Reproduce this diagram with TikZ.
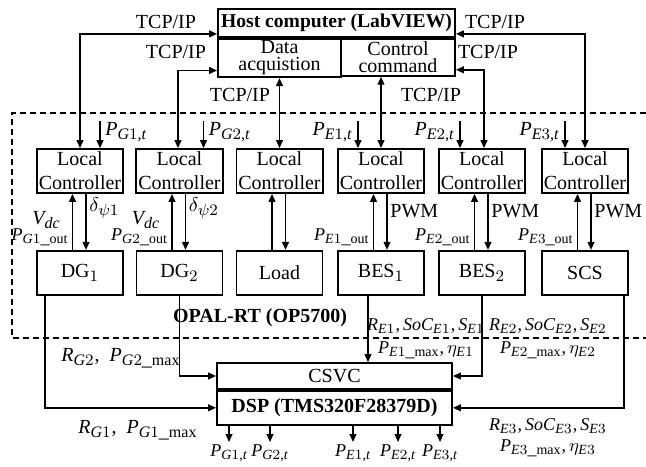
\documentclass[tikz,border=0pt]{standalone}
\usepackage{fontspec}
\setmainfont{Liberation Serif}
\usepackage[italic]{mathastext}
\usetikzlibrary{arrows.meta,positioning}
\tikzset{
  box/.style={rectangle,draw,line width=0.9pt,
              minimum width=43pt,minimum height=22pt,inner sep=1pt,
              align=center,font=\fontsize{10}{12}\selectfont},
  lcbox/.style={box},
  devbox/.style={box},
  arr/.style={-{Triangle[length=4pt,width=3.4pt]},line width=0.8pt},
  biarr/.style={{Triangle[length=4pt,width=3.4pt]}-{Triangle[length=4pt,width=3.4pt]},line width=0.8pt},
  lbl/.style={inner sep=1pt,align=center,font=\fontsize{10}{11.5}\selectfont},
  slbl/.style={lbl,font=\fontsize{9}{11.5}\selectfont},
  frame/.style={dashed,dash pattern=on 3pt off 2pt,line width=0.8pt}
}

\begin{document}
\begin{tikzpicture}[x=0.5pt,y=-0.5pt,node distance=28pt]
  \useasboundingbox (0,0) rectangle (646,466);

  % Host computer
  \node[box,minimum width=118.5pt,minimum height=14pt,font=\fontsize{9.8}{12}\selectfont\bfseries] (host) at (336.5,23) {Host computer (LabVIEW)};
  \node[box,minimum width=61.5pt,minimum height=18.5pt,anchor=north west,font=\fontsize{10}{8.5}\selectfont] (daq) at (host.south west) {Data\\acquistion};
  \node[box,minimum width=57pt,minimum height=18.5pt,anchor=north east,font=\fontsize{10}{8.5}\selectfont] (cmd) at (host.south east) {Control\\command};

  % OPAL-RT frame
  \draw[frame] (646,113) -| (12,338) -- (646,338);
  \node[lbl,font=\fontsize{10}{12}\selectfont\bfseries] (opal) at (260,318) {OPAL-RT (OP5700)};

  % Local controllers
  \node[lcbox] (lc1) at (80,171) {Local\\Controller};
  \node[lcbox] (lc2) at (179.5,171) {Local\\Controller};
  \node[lcbox] (lc3) at (279.5,171) {Local\\Controller};
  \node[lcbox] (lc4) at (381,171) {Local\\Controller};
  \node[lcbox] (lc5) at (482,171) {Local\\Controller};
  \node[lcbox] (lc6) at (585,171) {Local\\Controller};

  % Units
  \node[devbox,below=of lc1] (dg1) {DG$_1$};
  \node[devbox,below=of lc2] (dg2) {DG$_2$};
  \node[devbox,below=of lc3] (load) {Load};
  \node[devbox,below=of lc4] (bes1) {BES$_1$};
  \node[devbox,below=of lc5] (bes2) {BES$_2$};
  \node[devbox,below=of lc6] (scs) {SCS};

  % DSP
  \node[box,minimum width=117.5pt,minimum height=13pt] (csvc) at (334.5,376) {CSVC};
  \node[box,minimum width=117.5pt,minimum height=17pt,below=0pt of csvc,font=\fontsize{10}{12}\selectfont\bfseries] (dsp) {DSP (TMS320F28379D)};

  % TCP/IP links
  \draw[biarr] ([yshift=2pt]host.south west) -| (lc1.north);
  \draw[biarr] ([yshift=-6.25pt]daq.west) -| ([xshift=-0.75pt]lc2.north);
  \draw[biarr] (daq.south) -- (daq.south |- lc3.north);
  \draw[biarr] (cmd.south -| lc4.north) -- (lc4.north);
  \draw[biarr] ([yshift=-6.25pt]cmd.east) -| ([xshift=1pt]lc5.north);
  \draw[biarr] ([yshift=2pt]host.south east) -| (lc6.north);
  \node[lbl] at (166,22) {TCP/IP};
  \node[lbl] at (176,52) {TCP/IP};
  \node[lbl] at (240,95) {TCP/IP};
  \node[lbl] at (495,22) {TCP/IP};
  \node[lbl] at (488,52) {TCP/IP};
  \node[lbl] at (431,95) {TCP/IP};

  % references into the controllers
  \foreach \n/\s/\t/\a/\d in {lc1/10pt/G1/west/1.5pt, lc2/12pt/G2/west/1.5pt, lc4/-11.5pt/E1/east/-1.5pt, lc5/-11pt/E2/east/-1.5pt, lc6/-10pt/E3/east/-1.5pt} {
    \coordinate (\n-in) at ([xshift=\s,yshift=13.5pt]\n.north);
    \draw[arr] (\n-in) -- (\n-in |- \n.north);
    \node[lbl,anchor=\a] at ([xshift=\d,yshift=-5.5pt]\n-in) {$P_{\t,t}$};
  }

  % controller <-> unit
  \foreach \c/\u in {lc1/dg1, lc2/dg2, lc3/load, lc4/bes1, lc5/bes2, lc6/scs} {
    \draw[arr] ([xshift=-3.75pt]\u.north) -- ([xshift=-3.75pt]\c.south);
    \draw[arr] ([xshift=3pt]\c.south) -- ([xshift=3pt]\u.north);
  }
  \node[lbl,anchor=west] at ([xshift=3.5pt,yshift=-7pt]lc1.south) {$\delta_{\psi1}$};
  \node[lbl,anchor=west] at ([xshift=3.5pt,yshift=-7pt]lc2.south) {$\delta_{\psi2}$};
  \foreach \c in {lc4,lc5,lc6}
    \node[lbl,anchor=west] at ([xshift=3.5pt,yshift=-8.5pt]\c.south) {PWM};
  \foreach \u/\t in {dg1/G1, dg2/G2, bes1/E1, bes2/E2, scs/E3}
    \node[slbl,anchor=south east] (\u-out) at ([xshift=-4.5pt,yshift=1pt]\u.north) {$P_{\t\_\mathrm{out}}$};
  \node[lbl,anchor=south east] at ([xshift=-4pt,yshift=-2.5pt]dg1-out.north east) {$V_{dc}$};
  \node[lbl,anchor=south east] at ([xshift=-4pt,yshift=-2.5pt]dg2-out.north east) {$V_{dc}$};

  % units -> DSP
  \draw[arr] ([xshift=4.5pt]dg1.south west) |- (dsp.west);
  \draw[arr] (dg2.south) |- (csvc.west);
  \draw[arr] ([xshift=-6.5pt]bes1.south) -- ([xshift=-6.5pt]bes1.south |- csvc.north);
  \draw[arr] (bes2.south) |- (csvc.east);
  \draw[arr] ([xshift=-2.5pt]scs.south east) |- (dsp.east);
  \node[lbl] at (121,358) {$R_{G2}$,\enspace$P_{G2\_\mathrm{max}}$};
  \node[lbl] at (138,430) {$R_{G1}$,\enspace$P_{G1\_\mathrm{max}}$};
  \node[slbl] at (426,339) {$R_{E1},SoC_{E1},S_{E1}$\\$P_{E1\_\mathrm{max}},\eta_{E1}$};
  \node[slbl] at (548,339) {$R_{E2},SoC_{E2},S_{E2}$\\$P_{E2\_\mathrm{max}},\eta_{E2}$};
  \node[slbl,font=\fontsize{9}{10.5}\selectfont] at (548,438) {$R_{E3},SoC_{E3},S_{E3}$\\$P_{E3\_\mathrm{max}},\eta_{E3}$};

  % DSP outputs
  \foreach \x/\t in {229/G1, 270/G2, 353/E1, 398/E2, 440/E3} {
    \coordinate (out\t) at (\x,442);
    \draw[arr] (dsp.south -| out\t) -- (out\t);
    \node[slbl,below=0pt of out\t] {$P_{\t,t}$};
  }
\end{tikzpicture}
\end{document}
